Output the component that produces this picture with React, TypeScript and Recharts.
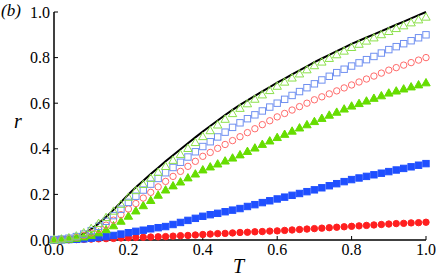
import React from 'react';
import { LineChart, Line, XAxis, YAxis } from 'recharts';

const T = [
  0, 0.02, 0.04, 0.06, 0.08, 0.1, 0.12, 0.14, 0.16, 0.18, 0.2, 0.22, 0.24, 0.26, 0.28, 0.3, 0.32,
  0.34, 0.36, 0.38, 0.4, 0.42, 0.44, 0.46, 0.48, 0.5, 0.52, 0.54, 0.56, 0.58, 0.6, 0.62, 0.64, 0.66,
  0.68, 0.7, 0.72, 0.74, 0.76, 0.78, 0.8, 0.82, 0.84, 0.86, 0.88, 0.9, 0.92, 0.94, 0.96, 0.98, 1.0,
];

// solid black curve
const lineR = [
  0, 0, 0.004, 0.013, 0.028, 0.048, 0.073, 0.101, 0.132, 0.166, 0.2, 0.231, 0.26, 0.289, 0.317,
  0.345, 0.372, 0.398, 0.424, 0.45, 0.476, 0.5, 0.524, 0.548, 0.571, 0.593, 0.612, 0.632, 0.652,
  0.671, 0.69, 0.708, 0.726, 0.744, 0.762, 0.78, 0.796, 0.812, 0.828, 0.844, 0.86, 0.874, 0.888,
  0.902, 0.916, 0.93, 0.944, 0.958, 0.972, 0.986, 1.0,
];

const greenOpen = [
  0.003, 0.005, 0.01, 0.018, 0.032, 0.051, 0.073, 0.099, 0.127, 0.157, 0.188, 0.217, 0.244, 0.271,
  0.297, 0.323, 0.35, 0.376, 0.402, 0.428, 0.454, 0.48, 0.505, 0.53, 0.555, 0.578, 0.598, 0.618,
  0.637, 0.656, 0.675, 0.693, 0.711, 0.729, 0.747, 0.765, 0.781, 0.797, 0.813, 0.829, 0.845, 0.859,
  0.873, 0.887, 0.901, 0.915, 0.928, 0.94, 0.953, 0.966, 0.978,
];

const blueOpen = [
  0.002, 0.004, 0.008, 0.015, 0.026, 0.041, 0.06, 0.082, 0.107, 0.135, 0.165, 0.192, 0.219, 0.245,
  0.27, 0.295, 0.318, 0.341, 0.364, 0.387, 0.41, 0.431, 0.452, 0.473, 0.494, 0.514, 0.532, 0.549,
  0.566, 0.583, 0.6, 0.617, 0.634, 0.651, 0.668, 0.685, 0.702, 0.718, 0.734, 0.749, 0.763, 0.777,
  0.791, 0.805, 0.82, 0.835, 0.848, 0.861, 0.874, 0.887, 0.9,
];

const redOpen = [
  0.002, 0.003, 0.006, 0.012, 0.02, 0.031, 0.046, 0.065, 0.087, 0.111, 0.136, 0.16, 0.184, 0.209,
  0.233, 0.257, 0.279, 0.301, 0.323, 0.345, 0.367, 0.384, 0.402, 0.419, 0.436, 0.453, 0.471, 0.488,
  0.506, 0.523, 0.54, 0.555, 0.57, 0.585, 0.6, 0.615, 0.628, 0.641, 0.654, 0.667, 0.68, 0.693,
  0.706, 0.719, 0.732, 0.745, 0.756, 0.767, 0.778, 0.789, 0.8,
];

const greenFilled = [
  0.001, 0.002, 0.004, 0.008, 0.014, 0.021, 0.032, 0.046, 0.063, 0.083, 0.105, 0.128, 0.151, 0.174,
  0.197, 0.22, 0.238, 0.255, 0.273, 0.29, 0.308, 0.321, 0.334, 0.347, 0.36, 0.374, 0.389, 0.404,
  0.42, 0.435, 0.45, 0.464, 0.478, 0.492, 0.506, 0.52, 0.534, 0.548, 0.561, 0.575, 0.588, 0.599,
  0.61, 0.622, 0.633, 0.645, 0.654, 0.663, 0.672, 0.681, 0.69,
];

const blueFilled = [
  0.001, 0.001, 0.002, 0.003, 0.005, 0.008, 0.011, 0.015, 0.02, 0.026, 0.032, 0.038, 0.043, 0.049,
  0.054, 0.059, 0.068, 0.077, 0.086, 0.095, 0.104, 0.111, 0.117, 0.124, 0.131, 0.138, 0.147, 0.155,
  0.164, 0.172, 0.18, 0.188, 0.196, 0.204, 0.212, 0.22, 0.229, 0.238, 0.247, 0.256, 0.265, 0.272,
  0.279, 0.286, 0.293, 0.3, 0.307, 0.314, 0.321, 0.328, 0.335,
];

const redFilled = [
  0, 0.001, 0.001, 0.002, 0.003, 0.004, 0.005, 0.006, 0.007, 0.009, 0.01, 0.011, 0.012, 0.013,
  0.014, 0.015, 0.017, 0.019, 0.02, 0.022, 0.024, 0.026, 0.028, 0.029, 0.031, 0.033, 0.034, 0.036,
  0.037, 0.039, 0.04, 0.042, 0.044, 0.046, 0.048, 0.05, 0.052, 0.054, 0.056, 0.058, 0.06, 0.062,
  0.064, 0.066, 0.068, 0.07, 0.072, 0.073, 0.075, 0.076, 0.078,
];

const TICKS = [0, 0.2, 0.4, 0.6, 0.8, 1.0];

const data = T.map((t, i) => ({
  T: t,
  line: lineR[i],
  go: greenOpen[i],
  bo: blueOpen[i],
  ro: redOpen[i],
  gf: greenFilled[i],
  bf: blueFilled[i],
  rf: redFilled[i],
}));

type Kind = 'tri' | 'sq' | 'circ';

const marker = (kind: Kind, color: string, filled: boolean) => (props: any) => {
  const { cx, cy, index } = props;
  if (cx == null || cy == null) return <g key={index} />;
  const fill = filled ? color : 'none';
  const stroke = color;
  if (kind === 'tri') {
    const s = 4.2;
    const pts = `${cx},${cy - s} ${cx - s},${cy + s * 0.75} ${cx + s},${cy + s * 0.75}`;
    return <polygon key={index} points={pts} fill={fill} stroke={stroke} strokeWidth={1} />;
  }
  if (kind === 'sq') {
    const s = 3.2;
    return (
      <rect key={index} x={cx - s} y={cy - s} width={s * 2} height={s * 2}
        fill={fill} stroke={stroke} strokeWidth={1} />
    );
  }
  return <circle key={index} cx={cx} cy={cy} r={3.2} fill={fill} stroke={stroke} strokeWidth={1} />;
};

const tickStyle = { fontFamily: 'Liberation Serif', fontSize: 16, fill: '#000' };
const fmt = (v: number) => v.toFixed(1);

export default function App() {
  return (
    <div style={{ position: 'absolute', left: 0, top: 0, width: 436, height: 278, background: '#fff' }}>
      <LineChart width={436} height={278} data={data}
        margin={{ top: 12, right: 10, left: 14, bottom: 8 }}>
        <XAxis dataKey="T" type="number" domain={[0, 1]} ticks={TICKS} tickFormatter={fmt}
          axisLine={{ stroke: '#000', strokeWidth: 1.5 }} tickLine={{ stroke: '#000' }}
          tickSize={-4} tickMargin={8} height={30} tick={tickStyle} interval={0} />
        <YAxis type="number" domain={[0, 1]} ticks={TICKS} tickFormatter={fmt}
          axisLine={{ stroke: '#000', strokeWidth: 1.5 }} tickLine={{ stroke: '#000' }}
          tickSize={-4} tickMargin={8} width={40} tick={tickStyle} interval={0} />
        <Line dataKey="rf" stroke="none" isAnimationActive={false} activeDot={false}
          dot={marker('circ', '#ff1f1f', true)} />
        <Line dataKey="bf" stroke="none" isAnimationActive={false} activeDot={false}
          dot={marker('sq', '#1f4fff', true)} />
        <Line dataKey="gf" stroke="none" isAnimationActive={false} activeDot={false}
          dot={marker('tri', '#66dd00', true)} />
        <Line dataKey="ro" stroke="none" isAnimationActive={false} activeDot={false}
          dot={marker('circ', '#ff6a6a', false)} />
        <Line dataKey="bo" stroke="none" isAnimationActive={false} activeDot={false}
          dot={marker('sq', '#7090f0', false)} />
        <Line dataKey="go" stroke="none" isAnimationActive={false} activeDot={false}
          dot={marker('tri', '#8be04a', false)} />
        <Line dataKey="line" stroke="#000" strokeWidth={2} dot={false} activeDot={false}
          isAnimationActive={false} type="linear" />
      </LineChart>
      <span style={{ position: 'absolute', left: 1, top: 1, fontFamily: 'Liberation Serif', fontSize: 17, fontStyle: 'italic' }}>
        (b)
      </span>
      <span style={{ position: 'absolute', left: 14, top: 110, fontFamily: 'Liberation Serif', fontSize: 20, fontStyle: 'italic' }}>
        r
      </span>
      <span style={{ position: 'absolute', left: 233, top: 255, fontFamily: 'Liberation Serif', fontSize: 20, fontStyle: 'italic' }}>
        T
      </span>
    </div>
  );
}
